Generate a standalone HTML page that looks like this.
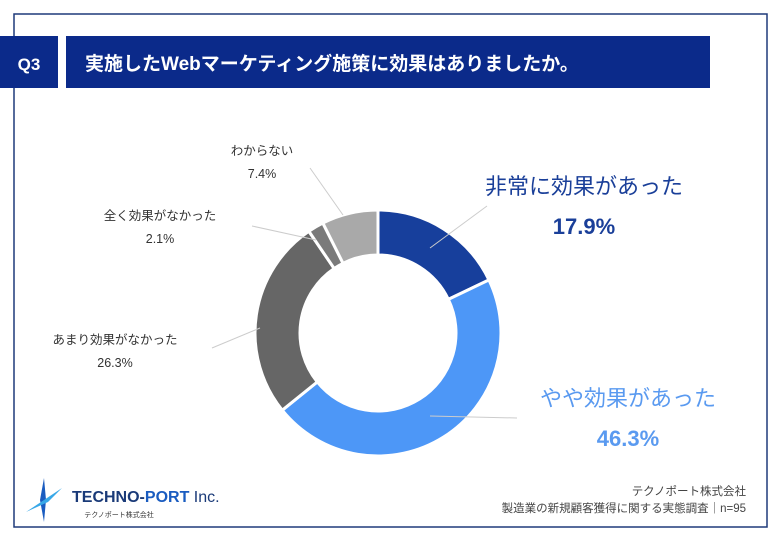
<!DOCTYPE html>
<html><head><meta charset="utf-8"><style>
body{margin:0;background:#fff;font-family:"Liberation Sans","Noto Sans CJK JP",sans-serif;}
svg text{font-family:"Liberation Sans","Noto Sans CJK JP",sans-serif;}
</style></head><body>
<svg id="c" width="780" height="540" viewBox="0 0 780 540">
<rect x="14" y="14" width="753" height="513" fill="#fff" stroke="#1f3a7a" stroke-width="1.5"/>
<rect x="0" y="36" width="58" height="52" fill="#0b2a8a"/>
<text x="29" y="70" fill="#fff" font-size="17" font-weight="bold" text-anchor="middle">Q3</text>
<rect x="66" y="36" width="644" height="52" fill="#0b2a8a"/>
<text x="85" y="70" fill="#fff" font-size="19" font-weight="bold">実施したWebマーケティング施策に効果はありましたか。</text>
<g id="slices"></g>
<g id="labels"></g>
<g>
<path d="M44 478 L40 500 L44 522 L46 500 Z" fill="#1a5cc0"/>
<path d="M26 512 L62 488 L48 502 Z" fill="#38a8e8"/>
<text x="72" y="502" font-size="16" font-weight="bold" fill="#1a3a78">TECHNO-<tspan fill="#1a5cc0">PORT</tspan> <tspan font-weight="normal">Inc.</tspan></text>
<text x="119" y="517" font-size="7" fill="#333" text-anchor="middle">テクノポート株式会社</text>
</g>
<text x="746" y="495" font-size="11.5" fill="#444" text-anchor="end">テクノポート株式会社</text>
<text x="746" y="512" font-size="11.5" fill="#444" text-anchor="end">製造業の新規顧客獲得に関する実態調査｜n=95</text>
</svg>
<script>
const categories=["非常に効果があった","やや効果があった","あまり効果がなかった","全く効果がなかった","わからない"];
const values=[17.9,46.3,26.3,2.1,7.4];
const colors=["#173f9c","#4d97f7","#666666","#7a7a7a","#a9a9a9"];
const NS="http://www.w3.org/2000/svg";
const cx=378,cy=333,R=123,r=78;
const total=values.reduce((a,b)=>a+b,0);
function pt(a,rad){return [cx+rad*Math.sin(a),cy-rad*Math.cos(a)];}
const g=document.getElementById('slices');
let acc=0;
values.forEach((v,i)=>{
 const a0=acc/total*2*Math.PI; acc+=v; const a1=acc/total*2*Math.PI;
 const lg=(a1-a0)>Math.PI?1:0;
 const p0=pt(a0,R),p1=pt(a1,R),q1=pt(a1,r),q0=pt(a0,r);
 const p=document.createElementNS(NS,'path');
 p.setAttribute('d',`M${p0[0]} ${p0[1]} A${R} ${R} 0 ${lg} 1 ${p1[0]} ${p1[1]} L${q1[0]} ${q1[1]} A${r} ${r} 0 ${lg} 0 ${q0[0]} ${q0[1]} Z`);
 p.setAttribute('fill',colors[i]);p.setAttribute('stroke','#fff');p.setAttribute('stroke-width','3');
 
 
 g.appendChild(p);
});
const labelPos=[[584,194,"middle",22,"#1a3f99",true],[628,406,"middle",22,"#5a9af0",true],[115,344,"middle",12.5,"#333",false],[160,220,"middle",12.5,"#333",false],[262,155,"middle",12.5,"#333",false]];
const leaders=[[[430,248],[487,206]],[[430,416],[517,418]],[[260,328],[212,348]],[[316,240],[252,226]],[[343,215],[310,168]]];
const lg2=document.getElementById('labels');
categories.forEach((c,i)=>{
 const [x,y,anc,fs,col,big]=labelPos[i];
 const l=document.createElementNS(NS,'line');
 l.setAttribute('x1',leaders[i][0][0]);l.setAttribute('y1',leaders[i][0][1]);l.setAttribute('x2',leaders[i][1][0]);l.setAttribute('y2',leaders[i][1][1]);
 l.setAttribute('stroke','#ccc');l.setAttribute('stroke-width','1');
 
 
 lg2.appendChild(l);
 const t=document.createElementNS(NS,'text');
 t.setAttribute('x',x);t.setAttribute('y',y);t.setAttribute('text-anchor',anc);t.setAttribute('font-size',fs);t.setAttribute('fill',col);
 t.textContent=c;
 
 
 lg2.appendChild(t);
 const t2=document.createElementNS(NS,'text');
 t2.setAttribute('x',x);t2.setAttribute('y',y+(big?40:23));t2.setAttribute('text-anchor',anc);t2.setAttribute('font-size',fs);t2.setAttribute('fill',col);
 if(big)t2.setAttribute('font-weight','bold');
 t2.textContent=values[i].toFixed(1)+'%';
 
 
 lg2.appendChild(t2);
});
</script>
</body></html>
